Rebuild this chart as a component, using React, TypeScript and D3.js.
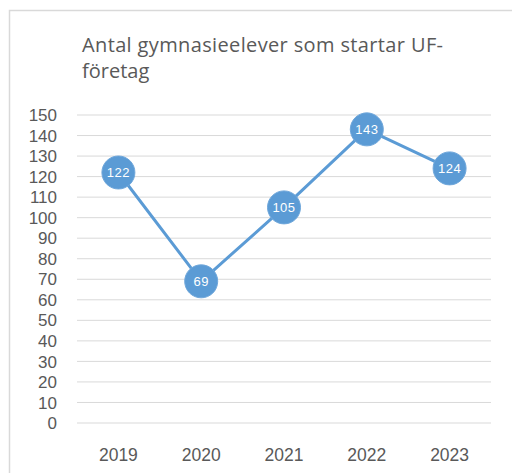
import React from "react";
import * as d3 from "d3";

const categories = ["2019", "2020", "2021", "2022", "2023"];
const values = [122, 69, 105, 143, 124];
const yTicks = [0, 10, 20, 30, 40, 50, 60, 70, 80, 90, 100, 110, 120, 130, 140, 150];
const titleLines = ["Antal gymnasieelever som startar UF-", "företag"];

const W = 512;
const H = 473;
const FONT = "'Liberation Sans', Arial, sans-serif";
const TITLE_FONT = "'Open Sans', 'Liberation Sans', sans-serif";
const BLUE = "#5b9bd5";
const TEXT = "#595959";

export default function App() {
  const left = 77;
  const right = 491;
  const top = 115;
  const bottom = 423;

  const x = d3.scaleBand<string>().domain(categories).range([left, right]).padding(0);
  const y = d3.scaleLinear().domain([0, 150]).range([bottom, top]);
  const cx = (c: string) => (x(c) ?? 0) + x.bandwidth() / 2;

  const line = d3
    .line<number>()
    .x((_, i) => cx(categories[i]))
    .y((d) => y(d));

  return (
    <svg
      width={W}
      height={H}
      style={{ position: "absolute", left: 0, top: 0, background: "#fff" }}
      fontFamily={FONT}
    >
      <rect x={9.5} y={10.5} width={W} height={H} fill="#fff" stroke="#d9d9d9" strokeWidth={1.5} />
      {titleLines.map((t, i) => (
        <text
          key={i}
          x={82}
          y={52 + i * 25.5}
          fontSize={20}
          fill={TEXT}
          fontFamily={TITLE_FONT}
          textLength={i === 0 ? 361 : undefined}
          lengthAdjust="spacing"
        >
          {t}
        </text>
      ))}
      {yTicks.map((t) => (
        <g key={t}>
          <line x1={left} x2={right} y1={y(t)} y2={y(t)} stroke="#d9d9d9" strokeWidth={1} />
          <text x={57} y={y(t)} dy="0.36em" textAnchor="end" fontSize={17} fill={TEXT}>
            {t}
          </text>
        </g>
      ))}
      {categories.map((c) => (
        <text key={c} x={cx(c)} y={461} textAnchor="middle" fontSize={17.5} fill={TEXT}>
          {c}
        </text>
      ))}
      <path d={line(values) ?? ""} fill="none" stroke={BLUE} strokeWidth={3} strokeLinejoin="round" />
      {values.map((v, i) => (
        <g key={i}>
          <circle cx={cx(categories[i])} cy={y(v)} r={16.5} fill={BLUE} stroke="#6fa7db" strokeWidth={1} />
          <text
            x={cx(categories[i])}
            y={y(v)}
            dy="0.36em"
            textAnchor="middle"
            fontSize={13}
            letterSpacing={0.5}
            fill="#fff"
          >
            {v}
          </text>
        </g>
      ))}
    </svg>
  );
}
